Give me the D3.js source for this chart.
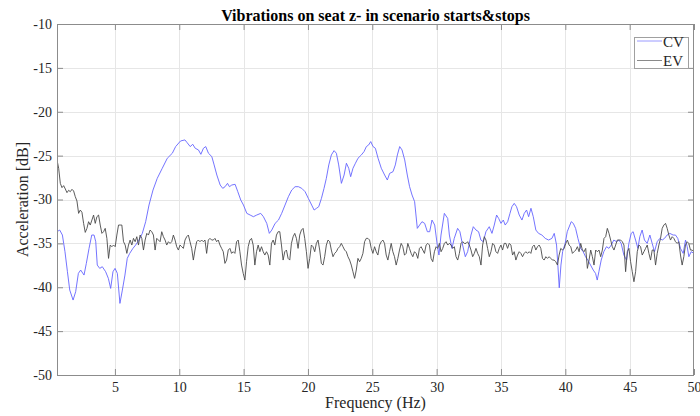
<!DOCTYPE html>
<html><head><meta charset="utf-8">
<script src="https://cdn.jsdelivr.net/npm/d3@7"></script>
<style>html,body{margin:0;padding:0;background:#fff;} svg{display:block;font-family:"Liberation Serif","Times New Roman",serif;} .tick text{font-family:"Liberation Serif","Times New Roman",serif;font-size:14px;}</style>
</head><body><svg id="chart" width="700" height="416"></svg>
<script>
const title = "Vibrations on seat z- in scenario starts&stops";
const xLabel = "Frequency (Hz)";
const yLabel = "Acceleration [dB]";
const seriesNames = ["CV", "EV"];
const xDomain = [0.5, 50];
const yDomain = [-50, -10];
const xTicks = [5, 10, 15, 20, 25, 30, 35, 40, 45, 50];
const yTicks = [-10, -15, -20, -25, -30, -35, -40, -45, -50];

// CV: [frequency Hz, acceleration dB]
const cvSpectrum = [
[0.5,-33.67],[0.71,-33.48],[0.92,-34.05],[1.12,-35.95],[1.31,-38.23],[1.49,-40.32],[1.75,-41.46],[1.95,-40.51],[2.16,-38.42],[2.34,-38.04],
[2.6,-38.61],[2.78,-37.28],[2.99,-35.57],[3.2,-34.05],[3.38,-34.05],[3.51,-34.81],[3.63,-37.47],[3.82,-37.85],[4.02,-37.66],[4.28,-38.23],
[4.49,-38.99],[4.67,-40.13],[4.85,-38.23],[5.01,-37.85],[5.19,-38.42],[5.39,-41.84],[5.58,-40.32],[5.78,-38.61],[5.96,-36.71],[6.15,-36.14],
[6.4,-35.57],[6.61,-35.19],[6.87,-34.62],[7.13,-33.86],[7.39,-32.53],[7.65,-30.63],[7.96,-28.92],[8.29,-27.59],[8.68,-26.44],[9.07,-25.3],
[9.46,-24.73],[9.72,-23.97],[10.1,-23.33],[10.44,-23.21],
[10.59,-23.48],[10.85,-23.97],[11.05,-23.71],[11.24,-24.16],[11.49,-24.35],[11.68,-24.85],[11.88,-24.16],[12.06,-23.97],[12.27,-24.73],[12.53,-25.11],
[12.71,-26.06],[12.92,-27.21],[13.18,-28.35],[13.38,-28.73],[13.56,-28.54],[13.75,-28.16],[13.9,-28.54],[14.08,-28.35],[14.34,-28.27],[14.55,-29.11],
[14.78,-30.06],[14.99,-30.63],[15.25,-31.58],[15.51,-31.77],[15.76,-31.96],[16.02,-31.77],[16.33,-31.58],[16.54,-31.96],[16.8,-32.72],[17.0,-33.86],
[17.19,-33.48],[17.45,-32.72],[17.71,-32.34],[17.96,-31.58],[18.22,-30.63],[18.48,-29.68],[18.74,-28.92],[19.0,-28.54],[19.26,-28.54],[19.52,-28.73],
[19.78,-29.11],[20.03,-29.87],
[20.29,-30.63],[20.48,-31.2],[20.66,-31.01],[20.84,-30.82],[21.05,-29.87],[21.25,-28.73],[21.43,-27.59],[21.62,-26.06],[21.82,-24.92],[22.03,-24.43],
[22.21,-24.73],[22.39,-26.06],[22.6,-28.16],[22.81,-27.21],[22.99,-25.87],[23.17,-26.44],[23.32,-27.4],[23.5,-26.44],[23.69,-25.87],[23.89,-25.3],
[24.15,-24.92],[24.36,-24.54],[24.54,-23.97],[24.72,-23.78],[24.88,-23.4],[25.06,-23.97],[25.24,-24.16],[25.45,-25.3],[25.7,-26.44],[25.96,-27.21],
[26.17,-27.78],[26.35,-27.02],[26.61,-26.83],[26.79,-26.06],[26.95,-24.92],[27.13,-23.97],[27.31,-24.35],[27.52,-25.49],[27.72,-27.21],[27.9,-28.54],
[28.09,-29.49],[28.29,-30.25],[28.5,-33.29],[28.68,-32.91],[28.86,-32.53],[29.07,-32.72],[29.28,-33.67],[29.46,-33.67],[29.64,-32.34],[29.85,-32.91],
[30.05,-35.19],[30.18,-36.33],
[30.34,-34.05],[30.6,-31.58],[30.86,-32.15],[30.99,-34.05],[31.19,-35.57],[31.37,-34.43],[31.63,-33.29],[31.81,-33.67],[32.02,-35.19],[32.23,-36.52],
[32.41,-35.95],[32.67,-34.05],[32.85,-33.1],[33.06,-33.48],[33.26,-33.67],[33.44,-34.62],[33.63,-34.81],[33.83,-33.67],[34.09,-33.1],[34.3,-33.86],
[34.48,-32.91],[34.66,-31.77],[34.82,-32.15],[35.0,-32.72],[35.18,-32.34],[35.33,-32.91],[35.52,-32.53],[35.7,-31.58],[35.85,-30.82],[36.03,-30.44],
[36.21,-30.82],[36.42,-31.77],[36.63,-32.34],[36.81,-31.58],[36.99,-31.2],[37.15,-31.96],[37.33,-31.0],[37.51,-31.96],[37.71,-33.48],[37.92,-33.86],
[38.18,-34.05],[38.44,-34.43],[38.7,-34.62],[38.96,-34.43],[39.14,-33.86],[39.32,-35.19],[39.42,-37.47],[39.53,-40.06],[39.66,-37.47],[39.79,-35.95],
[39.99,-35.0],
[40.15,-33.67],[40.46,-32.53],[40.62,-32.72],[40.8,-33.29],[40.98,-34.43],[41.19,-35.57],[41.39,-35.95],[41.57,-36.52],[41.75,-36.9],[41.96,-37.47],
[42.17,-38.04],[42.35,-38.42],[42.48,-39.18],[42.61,-38.23],[42.79,-36.9],[42.99,-35.95],[43.2,-35.38],[43.39,-35.57],[43.57,-35.19],[43.77,-34.62],
[43.98,-34.81],[44.16,-34.62],[44.34,-35.0],[44.55,-36.33],[44.76,-36.9],[44.94,-35.0],[45.12,-33.86],[45.27,-33.67],[45.46,-34.62],[45.64,-35.57],
[45.79,-34.24],[45.97,-33.48],[46.15,-34.62],[46.36,-35.0],[46.57,-34.05],[46.75,-35.0],[46.93,-35.95],[47.14,-34.81],[47.34,-34.43],[47.53,-34.62],
[47.71,-34.43],[47.91,-34.05],[48.12,-33.86],[48.38,-34.05],[48.56,-34.05],[48.74,-34.43],[48.95,-35.57],[49.16,-36.14],[49.34,-34.62],[49.47,-35.38],
[49.6,-36.52],[49.78,-35.95],[50.0,-36.14]
];

// EV: sampled on a uniform frequency grid (bins)
const evFreqStart = 0.5;
const evFreqStep = 0.1292;
const evValues = [
-25.49,-26.44,-28.16,-28.65,-28.42,-28.80,-29.22,-28.95,-29.11,-28.84,-29.03,-29.68,-30.17,-31.58,-31.20,-31.46,-32.72,-33.75,-33.29,
-32.53,-32.91,-32.34,-31.77,-32.72,-31.96,-31.77,-32.91,-33.86,-33.67,-33.29,-34.43,-36.71,-35.19,-35.38,-35.19,-35.38,-34.05,-32.91,-32.91,
-32.91,-34.81,-35.19,-36.14,-35.19,-34.62,-35.19,-34.43,-34.81,-34.24,-35.19,-34.05,-34.43,-35.76,-34.62,-33.86,-34.05,-33.48,-33.67,-34.05,
-35.76,-34.43,-34.62,-34.81,-33.67,-34.24,-34.62,-35.19,-34.81,-35.00,-34.81,-34.05,-34.62,-35.38,-35.76,-35.19,-35.38,
-35.57,-34.62,-34.24,-34.05,-34.81,-35.57,-36.90,-35.76,-34.81,-34.62,-34.81,-34.62,-34.81,-34.62,-36.14,-34.62,-34.43,-34.62,-34.62,-34.43,
-34.81,-34.62,-35.19,-35.57,-35.95,-37.28,-36.90,-35.76,-35.57,-36.14,-35.95,-36.14,-34.81,-34.62,-35.95,-37.47,-38.42,-39.18,-37.09,-35.38,
-34.62,-34.43,-35.19,-37.47,-35.95,-35.19,-35.95,-35.38,-35.95,-36.33,-35.95,-36.33,-37.47,-35.00,-34.62,-35.19,-34.05,-33.67,-33.67,-35.19,
-36.90,-35.95,-35.76,-36.71,-36.90,-35.00,-34.24,-33.86,-34.43,-35.57,-34.05,-33.48,-33.29,-34.43,-35.95,-37.85,-36.71,
-35.19,-35.38,-35.95,-35.00,-34.62,-35.76,-37.28,-37.47,-36.52,-35.19,-34.62,-34.81,-35.76,-36.52,-36.14,-35.95,-35.57,-35.38,-35.00,-35.38,
-35.76,-35.95,-36.52,-36.90,-37.47,-38.23,-38.99,-38.04,-36.71,-37.09,-36.71,-36.14,-34.81,-34.43,-34.43,-34.62,-35.57,-36.14,-35.38,-35.95,
-36.33,-35.19,-34.81,-34.62,-35.00,-36.33,-36.90,-35.95,-35.00,-35.95,-36.52,-37.47,-36.71,-35.76,-35.00,-35.38,-36.33,-36.14,-35.00,-35.57,
-36.14,-36.52,-35.95,-36.14,-36.71,-35.57,-35.38,-35.76,-36.14,-35.19,-35.00,-35.19,-36.71,-37.09,-35.95,-35.38,-35.57,
-35.00,-35.95,-35.57,-35.00,-34.81,-35.19,-35.00,-35.19,-35.57,-35.38,-36.52,-36.90,-36.14,-35.00,-34.81,-35.00,-35.00,-34.81,-35.19,-35.76,
-36.52,-36.14,-35.57,-36.14,-36.52,-37.47,-35.19,-34.24,-34.62,-35.57,-36.52,-35.95,-35.00,-35.19,-35.95,-36.14,-35.57,-35.19,-35.76,-35.00,
-35.00,-35.57,-35.00,-35.19,-36.33,-35.95,-36.90,-36.33,-35.95,-36.14,-36.52,-36.14,-35.95,-36.14,-35.95,-36.14,-35.38,-35.19,-35.76,-35.38,
-35.19,-35.57,-36.71,-36.90,-36.52,-36.71,-36.52,-36.71,-36.90,-36.90,-37.09,-37.47,-36.33,-35.57,-35.76,-35.57,-35.00,
-34.62,-35.19,-35.38,-36.14,-35.95,-35.76,-35.38,-35.95,-35.00,-35.76,-35.95,-35.57,-37.85,-36.90,-35.76,-36.52,-37.47,-35.76,-35.95,-35.76,
-36.52,-35.76,-34.43,-34.24,-33.29,-33.86,-34.62,-35.38,-35.76,-35.19,-34.62,-34.62,-34.62,-34.81,-35.19,-38.23,-35.95,-35.57,-37.09,-38.23,
-39.37,-38.23,-35.95,-35.19,-35.38,-36.33,-35.95,-35.57,-35.19,-36.14,-36.90,-35.76,-35.76,-37.47,-36.14,-35.19,-34.43,-33.29,-32.91,-32.72,
-33.29,-34.05,-34.62,-34.24,-34.43,-34.81,-35.00,-34.81,-36.33,-37.47,-36.52,-35.19,-34.81,-35.00,-35.76,-35.76,-35.95,-35.95
];

const seriesColors = {CV: "#6464ff", EV: "#4a4a4a"};

const svg = d3.select("#chart");
const plot = {left: 57, right: 694, top: 24, bottom: 375};
const x = d3.scaleLinear().domain(xDomain).range([plot.left, plot.right]);
const y = d3.scaleLinear().domain(yDomain).range([plot.bottom, plot.top]);

const axisColor = "#8c8c8c";
const textColor = "#262626";

svg.append("rect").attr("x", plot.left).attr("y", plot.top)
  .attr("width", plot.right - plot.left).attr("height", plot.bottom - plot.top)
  .attr("fill", "#fff");

const grid = svg.append("g").attr("stroke", "#e6e6e6").attr("stroke-width", 1);
grid.selectAll("line.gx").data(xTicks.filter(d => d < xDomain[1])).join("line")
  .attr("x1", d => Math.round(x(d)) + 0.5).attr("x2", d => Math.round(x(d)) + 0.5)
  .attr("y1", plot.top).attr("y2", plot.bottom);
grid.selectAll("line.gy").data(yTicks.filter(d => d > yDomain[0] && d < yDomain[1])).join("line")
  .attr("y1", d => Math.round(y(d)) + 0.5).attr("y2", d => Math.round(y(d)) + 0.5)
  .attr("x1", plot.left).attr("x2", plot.right);

svg.append("clipPath").attr("id", "clip").append("rect")
  .attr("x", plot.left).attr("y", plot.top)
  .attr("width", plot.right - plot.left).attr("height", plot.bottom - plot.top);

const evSpectrum = evValues.map((v, i) => [evFreqStart + i * evFreqStep, v]);
const line = d3.line().x(d => x(d[0])).y(d => y(d[1]));
const lines = svg.append("g").attr("clip-path", "url(#clip)").attr("fill", "none");
lines.append("path").datum(cvSpectrum).attr("d", line)
  .attr("stroke", seriesColors.CV).attr("stroke-width", 0.9).attr("stroke-linejoin", "round");
lines.append("path").datum(evSpectrum).attr("d", line)
  .attr("stroke", seriesColors.EV).attr("stroke-width", 0.9).attr("stroke-linejoin", "round");

function styleAxis(g) {
  g.attr("font-family", null).attr("font-size", null);
  g.select(".domain").remove();
  g.selectAll(".tick line").attr("stroke", axisColor);
  g.selectAll(".tick text").attr("fill", textColor);
}
svg.append("g").attr("transform", `translate(0,${plot.bottom})`)
  .call(d3.axisBottom(x).tickValues(xTicks).tickSize(-6).tickPadding(7).tickFormat(d3.format("d")))
  .call(styleAxis);
svg.append("g").attr("transform", `translate(0,${plot.top})`)
  .call(d3.axisTop(x).tickValues(xTicks).tickSize(-6).tickFormat(""))
  .call(styleAxis);
svg.append("g").attr("transform", `translate(${plot.left},0)`)
  .call(d3.axisLeft(y).tickValues(yTicks).tickSize(-6).tickPadding(5).tickFormat(d => String(d).replace("\u2212", "-")))
  .call(styleAxis);
svg.append("g").attr("transform", `translate(${plot.right},0)`)
  .call(d3.axisRight(y).tickValues(yTicks).tickSize(-6).tickFormat(""))
  .call(styleAxis);

svg.append("rect").attr("x", plot.left + 0.5).attr("y", plot.top + 0.5)
  .attr("width", plot.right - plot.left - 1).attr("height", plot.bottom - plot.top)
  .attr("fill", "none").attr("stroke", axisColor).attr("stroke-width", 1);

svg.append("text").attr("x", (plot.left + plot.right) / 2).attr("y", 21)
  .attr("text-anchor", "middle").attr("font-weight", "bold").attr("font-size", 16)
  .attr("fill", "#000").text(title);
svg.append("text").attr("x", (plot.left + plot.right) / 2).attr("y", 408)
  .attr("text-anchor", "middle").attr("font-size", 16).attr("fill", textColor).text(xLabel);
svg.append("text").attr("transform", `translate(28,${(plot.top + plot.bottom) / 2}) rotate(-90)`)
  .attr("text-anchor", "middle").attr("font-size", 16).attr("fill", textColor).text(yLabel);

const lg = svg.append("g");
lg.append("rect").attr("x", 634.5).attr("y", 37.5).attr("width", 54).attr("height", 31)
  .attr("fill", "#fff").attr("stroke", "#a0a0a0").attr("stroke-width", 1);
seriesNames.forEach((name, i) => {
  const yy = 41 + i * 19.5;
  lg.append("line").attr("x1", 637).attr("x2", 662).attr("y1", yy).attr("y2", yy)
    .attr("stroke", name === "CV" ? "#9a9aff" : "#8a8a8a").attr("stroke-width", 1);
  lg.append("text").attr("x", 663).attr("y", yy + 5.5).attr("font-size", 15)
    .attr("fill", textColor).text(name);
});
</script></body></html>
